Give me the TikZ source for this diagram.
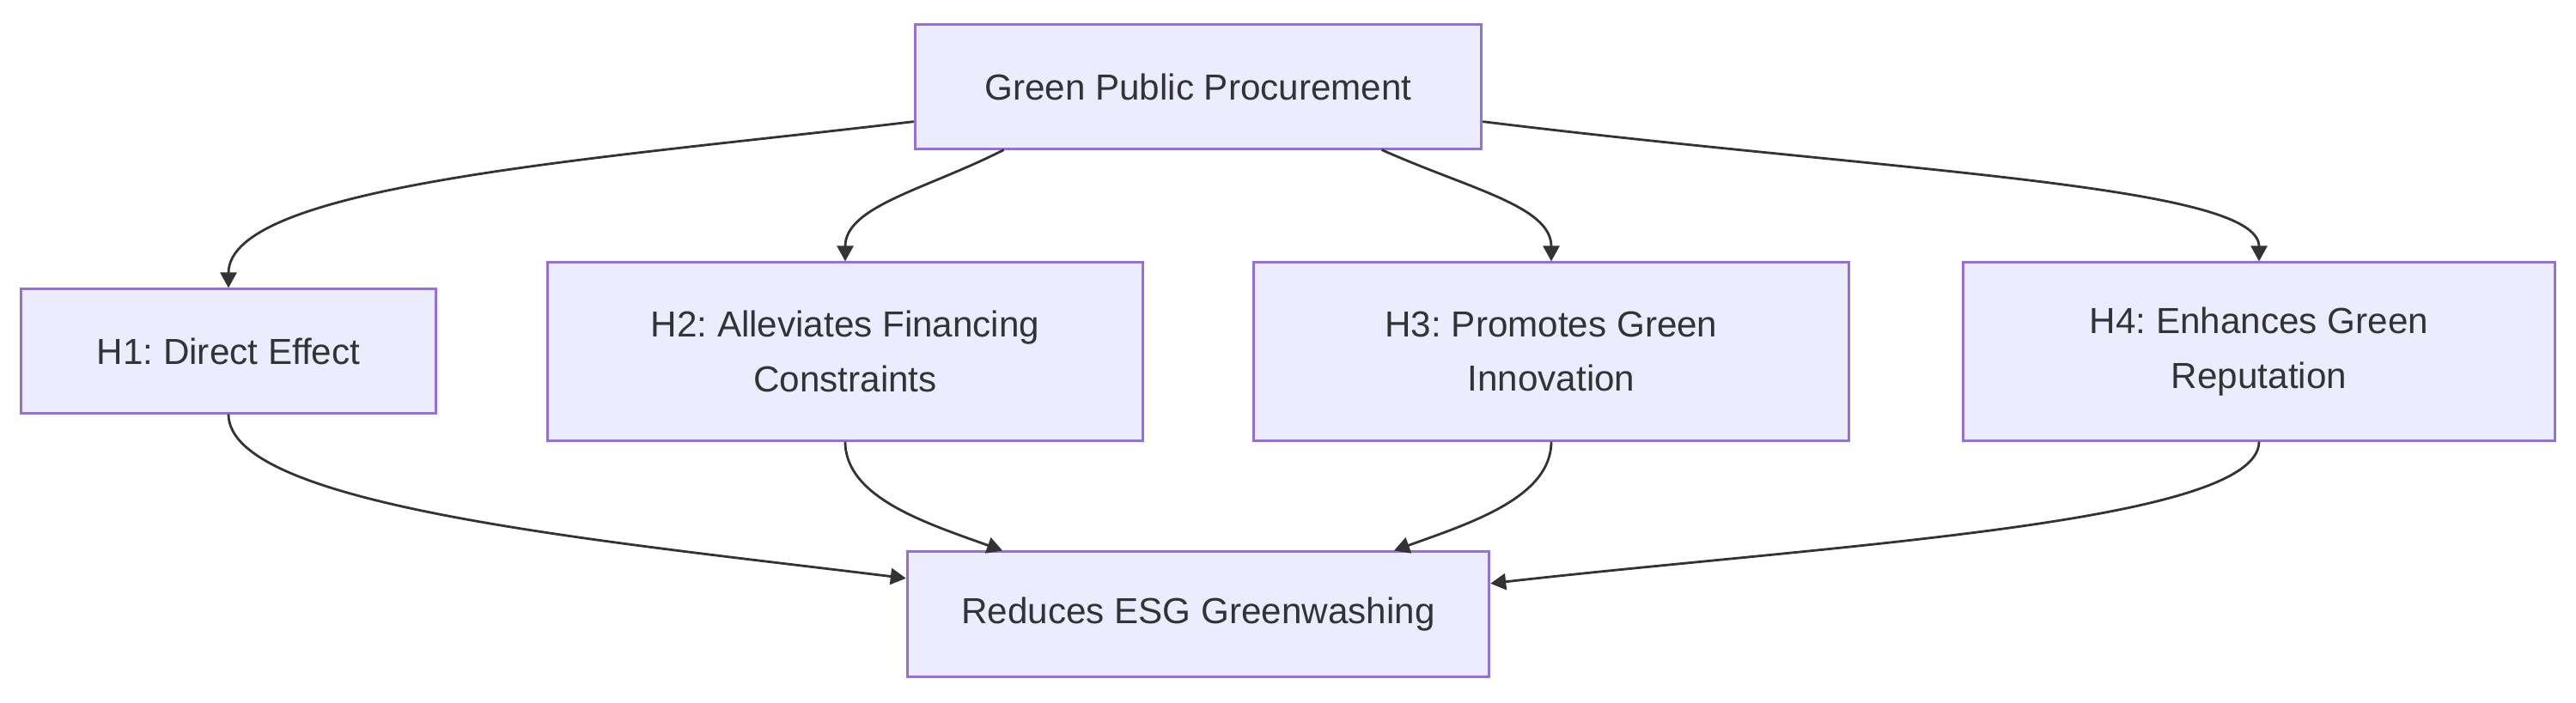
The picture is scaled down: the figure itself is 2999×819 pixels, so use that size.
\documentclass[tikz,border=0pt]{standalone}
\usepackage{fontspec}
\setmainfont{Liberation Sans}
\usetikzlibrary{arrows.meta}
\definecolor{boxfill}{HTML}{ECECFF}
\definecolor{boxline}{HTML}{9370DB}
\definecolor{linkcol}{HTML}{333333}
\frenchspacing

\begin{document}
\begin{tikzpicture}[x=0.01cm,y=0.01cm]
    \tikzstyle{block}=[rectangle,draw=boxline,fill=boxfill,line width=0.85pt,text=linkcol,align=center,font=\fontsize{12}{18}\selectfont,minimum height=1.44cm,inner sep=0pt]
    \tikzstyle{link}=[draw=linkcol,line width=0.8pt,-{Triangle[length=0.18cm,width=0.19cm]}]
    \useasboundingbox (0,0) rectangle (2999,819);

    \node[block,minimum width=6.59cm] (GPP) at (1395,718) {Green Public Procurement};
    \node[block,minimum width=4.82cm] (H1) at (266,410) {H1: Direct Effect};
    \foreach \name/\x/\w/\txt in {H2/984/6.92cm/{H2: Alleviates Financing\\Constraints},
                                  H3/1806/6.93cm/{H3: Promotes Green\\Innovation},
                                  H4/2630/6.89cm/{H4: Enhances Green\\Reputation}}
        \node[block,minimum width=\w,minimum height=2.07cm] (\name) at (\x,409.5) {\txt};
    \node[block,minimum width=6.77cm,minimum height=1.45cm] (RES) at (1395,103.5) {Reduces ESG Greenwashing};

    % from procurement to the hypotheses
    \draw[link] (GPP.187) .. controls (700,634) and (266,604) .. (H1.north);
    \draw[link] (GPP.198.4) .. controls (1080,599) and (984,579) .. (H2.north);
    \draw[link] (GPP.341.6) .. controls (1710,599) and (1806,579) .. (H3.north);
    \draw[link] (GPP.353.6) .. controls (2200,619) and (2630,604) .. (H4.north);

    % from the hypotheses to greenwashing
    \draw[link] (H1.south) .. controls (266,229) and (700,189) .. (RES.173.5);
    \draw[link] (H2.south) .. controls (984,239) and (1080,209) .. (RES.162);
    \draw[link] (H3.south) .. controls (1806,239) and (1710,209) .. (RES.18);
    \draw[link] (H4.south) .. controls (2630,209) and (2130,184) .. (RES.6.5);
\end{tikzpicture}
\end{document}
